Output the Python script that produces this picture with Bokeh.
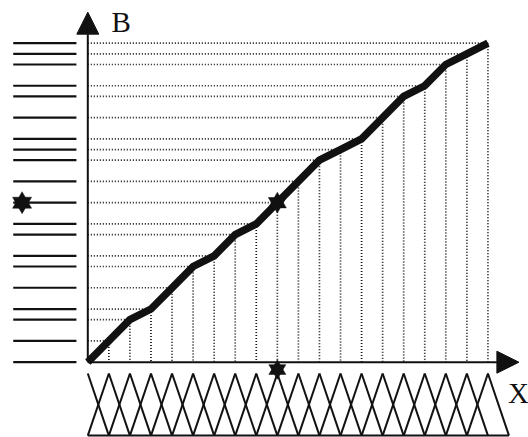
from bokeh.plotting import figure
from bokeh.models import Range1d, Arrow, NormalHead, ColumnDataSource
from bokeh.core.properties import value
from bokeh.embed import file_html
from bokeh.resources import INLINE

# ---- data ----
X = list(range(20))
B = [0, 2, 4, 5, 7, 9, 10, 12, 13, 15, 17, 19, 20, 21, 23, 25, 26, 28, 29, 30]
STAR = 9
AXIS_LABELS = ["B", "X"]

INK = "#111111"

# ---- layout constants ----
TRI_TOP = -1.06
TRI_BOT = -6.9
LEFT_X0, LEFT_X1 = -3.54, -0.54
B_TIP = 32.92
X_TIP = 20.47

W, H = 528, 437
X0PX, XSTEP = 87.3, 21.06
Y0PX, YSTEP = 361.7, 10.633

p = figure(width=W, height=H,
           x_range=Range1d(-X0PX / XSTEP, (W - X0PX) / XSTEP),
           y_range=Range1d(-(H - Y0PX) / YSTEP, Y0PX / YSTEP),
           output_backend="svg", toolbar_location=None, min_border=0,
           x_axis_location=None, y_axis_location=None)
p.grid.visible = False
p.outline_line_color = None
p.background_fill_color = "white"

# dotted helper lines
p.segment(x0=[0] * 19, y0=B[1:], x1=X[1:], y1=B[1:],
          line_color=INK, line_width=1.7, line_dash="1 2")
p.segment(x0=X[1:], y0=B[1:], x1=X[1:], y1=[0] * 19,
          line_color=INK, line_width=1.7, line_dash="1 2")

# left level lines
p.segment(x0=[LEFT_X0] * len(B), y0=B, x1=[LEFT_X1] * len(B), y1=B,
          line_color=INK, line_width=2.2)

# triangular sets below x-axis
xs, ys = [], []
for k in X:
    xs.append([k, k + 1]); ys.append([TRI_TOP, TRI_BOT])
    if k > 0:
        xs.append([k, k - 1]); ys.append([TRI_TOP, TRI_BOT])
xs.append([X[0], X[-1] + 1]); ys.append([TRI_BOT, TRI_BOT])
p.multi_line(xs=xs, ys=ys, line_color=INK, line_width=2)

# axes with arrows
p.add_layout(Arrow(end=NormalHead(size=22, line_color=INK, fill_color=INK, line_width=1),
                   x_start=0, y_start=0, x_end=0, y_end=B_TIP,
                   line_color=INK, line_width=2))
p.add_layout(Arrow(end=NormalHead(size=22, line_color=INK, fill_color=INK, line_width=1),
                   x_start=0, y_start=0, x_end=X_TIP, y_end=0,
                   line_color=INK, line_width=2))

# main curve
p.line(X, B, line_color=INK, line_width=7.5, line_join="miter")

# star markers
sx = [X[STAR], LEFT_X0 + 0.42, X[STAR]]
sy = [B[STAR], B[STAR], -0.69]
ss = [18, 19, 17]
for m in ("triangle", "inverted_triangle"):
    p.scatter(sx, sy, marker=m, size=ss, fill_color=INK, line_color=INK, line_width=0.5)

# axis labels
src = ColumnDataSource(dict(x=[1.59, 20.45], y=[32.04, -2.94], t=AXIS_LABELS))
p.text(x="x", y="y", text="t", source=src, text_font=value("Liberation Serif"),
       text_font_size=value("29px"), text_color=INK, text_align="center",
       text_baseline="alphabetic")

open("out.html", "w").write(file_html(p, INLINE))
